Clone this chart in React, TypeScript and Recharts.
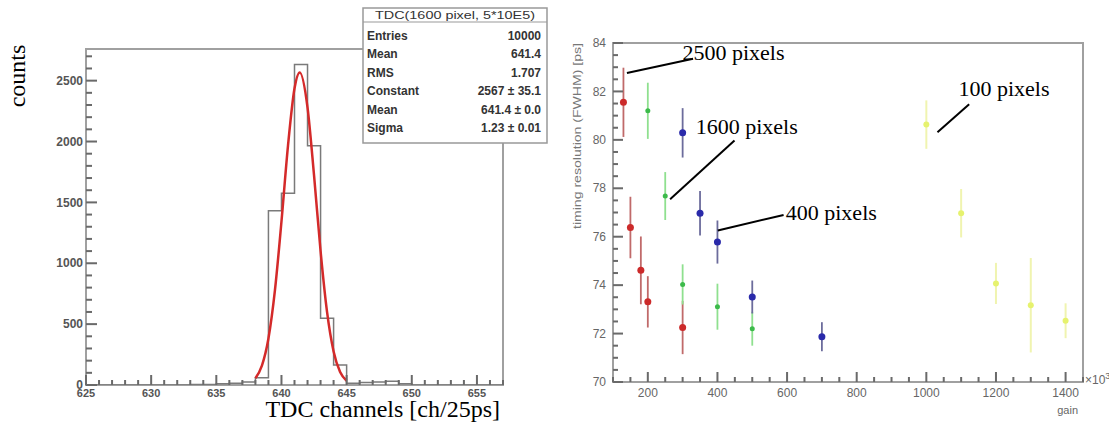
import {
  ComposedChart,
  Line,
  Scatter,
  ErrorBar,
  XAxis,
  YAxis,
  ReferenceArea,
  ReferenceLine,
  ReferenceDot,
} from 'recharts';

const SANS = "'Liberation Sans', Arial, sans-serif";
const SERIF = "'Liberation Serif', 'Times New Roman', serif";
const FRAME = '#a0a0a0';
const TICK = '#6a6a6a';
const LABEL = '#555555';

// left panel: TDC histogram (bin lower edges) + gaussian fit
const binLow = [625, 633, 634, 635, 636, 637, 638, 639, 640, 641, 642, 643, 644, 645, 646, 647, 648, 649, 650, 657];
const binCount = [0, 5, 5, 10, 15, 25, 60, 1431, 1576, 2632, 1965, 548, 164, 15, 20, 25, 30, 10, 0, 0];
const fitX = [638, 638.5, 639, 639.5, 640, 640.5, 641, 641.4, 642, 642.5, 643, 643.5, 644, 644.5, 645];
const fitY = [56, 159, 382, 779, 1343, 1964, 2435, 2567, 2279, 1721, 1101, 598, 275, 107, 35];

const statLabels = ['Entries', 'Mean', 'RMS', 'Constant', 'Mean', 'Sigma'];
const statValues = ['10000', '641.4', '1.707', '2567 \u00b1 35.1', '641.4 \u00b1 0.0', '1.23 \u00b1 0.01'];

const tdcTicks = Array.from({ length: 33 }, (_, i) => 625 + i);
const countTicks = Array.from({ length: 28 }, (_, i) => i * 100);

// right panel: timing resolution vs gain
const gain2500 = [130, 150, 180, 200, 300];
const res2500 = [81.55, 76.38, 74.61, 73.31, 72.25];
const err2500 = [1.43, 1.27, 1.4, 1.06, 1.1];

const gain1600 = [200, 250, 300, 400, 500];
const res1600 = [81.2, 77.68, 74.03, 73.11, 72.2];
const err1600 = [1.16, 0.99, 0.83, 0.95, 0.7];

const gain400 = [300, 350, 400, 500, 700];
const res400 = [80.29, 76.97, 75.78, 73.51, 71.87];
const err400 = [1.02, 0.92, 0.89, 0.68, 0.6];

const gain100 = [1000, 1100, 1200, 1300, 1400];
const res100 = [80.63, 76.97, 74.07, 73.17, 72.53];
const err100 = [1.0, 1.0, 0.85, 1.95, 0.72];

const gainTicks = Array.from({ length: 28 }, (_, i) => 100 + i * 50);
const resTicks = Array.from({ length: 29 }, (_, i) => 70 + i * 0.5);

// annotations (data coordinates)
const annoText = ['2500 pixels', '1600 pixels', '400 pixels', '100 pixels'];
const annoTextX = [446, 484, 727, 1223];
const annoTextY = [83.62, 80.58, 77.0, 82.13];
const annoFrom = [
  { x: 140, y: 82.76 },
  { x: 264, y: 77.55 },
  { x: 401, y: 76.26 },
  { x: 1032, y: 80.31 },
];
const annoTo = [
  { x: 330, y: 83.35 },
  { x: 449, y: 79.97 },
  { x: 590, y: 76.9 },
  { x: 1123, y: 81.47 },
];

const toPoints = (xs: number[], ys: number[], es: number[]) =>
  xs.map((x, i) => ({ x, y: ys[i], err: es[i] }));

const histData = binLow.map((x, i) => ({ x, count: binCount[i] }));
const fitData = fitX.map((x, i) => ({ x, fit: fitY[i] }));

// ticks: a mark pointing into the frame plus a label on majors
function CountTick({ x, y, payload }: any) {
  const v = payload.value;
  const major = v % 500 === 0;
  return (
    <g>
      <rect x={x} y={y - 1} width={major ? 11 : 6} height={2} fill={TICK} />
      {major && (
        <text x={x - 3} y={y} dy="0.35em" textAnchor="end" fontSize={12} fontWeight="bold" fill={LABEL} fontFamily={SANS}>
          {v}
        </text>
      )}
    </g>
  );
}

function TdcTick({ x, y, payload }: any) {
  const v = payload.value;
  const major = v % 5 === 0;
  const h = major ? 10 : 5;
  return (
    <g>
      <rect x={x - 1} y={y - h} width={2} height={h} fill={TICK} />
      {major && (
        <text x={x} y={y + 8} dy="0.35em" textAnchor="middle" fontSize={11} fontWeight="bold" fill={LABEL} fontFamily={SANS}>
          {v}
        </text>
      )}
    </g>
  );
}

function ResTick({ x, y, payload }: any) {
  const v = payload.value;
  const major = v % 2 === 0;
  return (
    <g>
      <rect x={x} y={y - 1} width={major ? 10 : 5} height={2} fill={TICK} />
      {major && (
        <text x={x - 7} y={y} dy="0.35em" textAnchor="end" fontSize={12} fill="#666" fontFamily={SANS}>
          {v}
        </text>
      )}
    </g>
  );
}

function GainTick({ x, y, payload }: any) {
  const v = payload.value;
  const major = v % 200 === 0;
  const h = major ? 10 : 5;
  return (
    <g>
      <rect x={x - 1} y={y - h} width={2} height={h} fill={TICK} />
      {major && (
        <text x={x} y={y + 11} dy="0.35em" textAnchor="middle" fontSize={12} fill="#666" fontFamily={SANS}>
          {v}
        </text>
      )}
    </g>
  );
}

const dot = (r: number, fill: string) => (p: any) => <circle cx={p.cx} cy={p.cy} r={r} fill={fill} />;

function TdcPanel() {
  return (
    <ComposedChart width={520} height={430} margin={{ top: 49, right: 17, bottom: 15, left: 0 }}>
      <ReferenceArea x1={625} x2={657} y1={0} y2={2760} fill="none" stroke={FRAME} strokeWidth={2} />
      <XAxis
        type="number"
        dataKey="x"
        domain={[625, 657]}
        ticks={tdcTicks}
        interval={0}
        allowDataOverflow
        height={30}
        axisLine={false}
        tickLine={false}
        tickSize={0}
        tickMargin={0}
        tick={<TdcTick />}
        label={{
          content: (p: any) => {
            const vb = p.viewBox || { x: 86, y: 385, width: 417 };
            return (
              <text x={vb.x + vb.width - 3} y={vb.y + 32} textAnchor="end" fontSize={24} fontFamily={SERIF} fill="#000">
                TDC channels [ch/25ps]
              </text>
            );
          },
        }}
      />
      <YAxis
        type="number"
        domain={[0, 2760]}
        ticks={countTicks}
        interval={0}
        allowDataOverflow
        width={86}
        axisLine={false}
        tickLine={false}
        tickSize={0}
        tickMargin={0}
        tick={<CountTick />}
        label={{
          content: (p: any) => {
            const vb = p.viewBox || { x: 0, y: 49 };
            const lx = vb.x + 25;
            const ly = vb.y + 27;
            return (
              <text x={lx} y={ly} transform={`rotate(-90 ${lx} ${ly})`} textAnchor="middle" fontSize={24} fontFamily={SERIF} fill="#000">
                counts
              </text>
            );
          },
        }}
      />
      <Line
        data={histData}
        dataKey="count"
        type="stepAfter"
        stroke="#7a7a7a"
        strokeWidth={1.5}
        dot={false}
        isAnimationActive={false}
      />
      <Line
        data={fitData}
        dataKey="fit"
        type="monotone"
        stroke="#d42a2a"
        strokeWidth={2.5}
        dot={false}
        isAnimationActive={false}
      />
    </ComposedChart>
  );
}

function StatsBox() {
  return (
    <svg
      width={186}
      height={137}
      style={{ position: 'absolute', left: 362, top: 7 }}
      fontFamily={SANS}
    >
      <rect x={1} y={1} width={184} height={135} fill="#fff" stroke="#999" strokeWidth={1.5} />
      <line x1={1} x2={185} y1={15} y2={15} stroke="#999" strokeWidth={1.2} />
      <text x={93} y={12} textAnchor="middle" fontSize={11} fill="#333" textLength={160} lengthAdjust="spacingAndGlyphs">
        TDC(1600 pixel, 5*10E5)
      </text>
      {statLabels.map((s, i) => (
        <g key={i}>
          <text x={5} y={33 + i * 18.4} fontSize={12} fontWeight="bold" fill="#333">
            {s}
          </text>
          <text x={179} y={33 + i * 18.4} fontSize={12} fontWeight="bold" fill="#333" textAnchor="end">
            {statValues[i]}
          </text>
        </g>
      ))}
    </svg>
  );
}

function ResolutionPanel() {
  return (
    <ComposedChart width={589} height={430} margin={{ top: 43, right: 26, bottom: 18, left: 0 }}>
      <ReferenceArea x1={100} x2={1450} y1={70} y2={84} fill="none" stroke={FRAME} strokeWidth={2} />
      <XAxis
        type="number"
        dataKey="x"
        domain={[100, 1450]}
        ticks={gainTicks}
        interval={0}
        allowDataOverflow
        height={30}
        axisLine={false}
        tickLine={false}
        tickSize={0}
        tickMargin={0}
        tick={<GainTick />}
        label={{
          content: (p: any) => {
            const vb = p.viewBox || { x: 93, y: 382, width: 470 };
            const right = vb.x + vb.width;
            return (
              <g fontFamily={SANS} fill="#666">
                <text x={right - 5} y={vb.y + 32} textAnchor="end" fontSize={11}>
                  gain
                </text>
                <text x={right + 2} y={vb.y + 2} fontSize={12}>
                  {'\u00d710'}
                  <tspan dy={-5} fontSize={9}>3</tspan>
                </text>
              </g>
            );
          },
        }}
      />
      <YAxis
        type="number"
        dataKey="y"
        domain={[70, 84]}
        ticks={resTicks}
        interval={0}
        allowDataOverflow
        width={93}
        axisLine={false}
        tickLine={false}
        tickSize={0}
        tickMargin={0}
        tick={<ResTick />}
        label={{
          content: (p: any) => {
            const vb = p.viewBox || { x: 0, y: 43 };
            const lx = vb.x + 61;
            const ly = vb.y + 93;
            return (
              <text
                x={lx}
                y={ly}
                transform={`rotate(-90 ${lx} ${ly})`}
                textAnchor="middle"
                fontSize={11}
                fontFamily={SANS}
                fill="#777"
                textLength={186}
                lengthAdjust="spacingAndGlyphs"
              >
                timing resolution (FWHM) [ps]
              </text>
            );
          },
        }}
      />
      <Scatter data={toPoints(gain100, res100, err100)} shape={dot(3, '#e6f26e')} isAnimationActive={false}>
        <ErrorBar dataKey="err" direction="y" width={0} stroke="#f0f4b0" strokeWidth={2} />
      </Scatter>
      <Scatter data={toPoints(gain2500, res2500, err2500)} shape={dot(3.5, '#cc2a2a')} isAnimationActive={false}>
        <ErrorBar dataKey="err" direction="y" width={0} stroke="#c06a6a" strokeWidth={1.8} />
      </Scatter>
      <Scatter data={toPoints(gain1600, res1600, err1600)} shape={dot(2.5, '#3cba4a')} isAnimationActive={false}>
        <ErrorBar dataKey="err" direction="y" width={0} stroke="#8fe08f" strokeWidth={1.8} />
      </Scatter>
      <Scatter data={toPoints(gain400, res400, err400)} shape={dot(3.5, '#2a2aaa')} isAnimationActive={false}>
        <ErrorBar dataKey="err" direction="y" width={0} stroke="#6c6c9c" strokeWidth={1.8} />
      </Scatter>
      {annoText.map((t, i) => (
        <ReferenceLine key={`l${i}`} segment={[annoFrom[i], annoTo[i]]} stroke="#000" strokeWidth={2} />
      ))}
      {annoText.map((t, i) => (
        <ReferenceDot
          key={`t${i}`}
          x={annoTextX[i]}
          y={annoTextY[i]}
          r={0}
          fill="none"
          stroke="none"
          label={{ value: t, position: 'center', fontSize: 22, fontFamily: SERIF, fill: '#000' }}
        />
      ))}
    </ComposedChart>
  );
}

export default function App() {
  return (
    <div style={{ position: 'absolute', left: 0, top: 0, width: 1109, height: 430, background: '#fff' }}>
      <div style={{ position: 'absolute', left: 0, top: 0 }}>
        <TdcPanel />
      </div>
      <div style={{ position: 'absolute', left: 520, top: 0 }}>
        <ResolutionPanel />
      </div>
      <StatsBox />
    </div>
  );
}
